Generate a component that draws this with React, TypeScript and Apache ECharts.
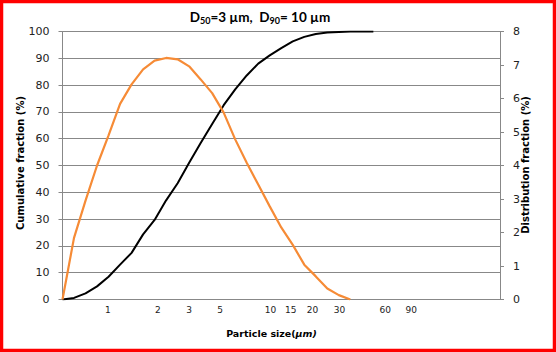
import React, { useEffect, useRef } from "react";
import * as echarts from "echarts";

// particle-size bin index (Excel-style category positions)
const cumulative = [0, 0.6, 2.3, 4.9, 8.5, 13, 17.4, 24.3, 29.7, 37, 43.4, 51, 58.4, 65.5, 72.5, 78.4, 83.6, 88, 91.1, 93.8, 96.3, 98, 99.1, 99.6, 99.8, 100, 100, 100];
const distribution = [0, 1.84, 2.95, 4.0, 4.9, 5.84, 6.42, 6.87, 7.13, 7.21, 7.17, 6.96, 6.57, 6.16, 5.58, 4.78, 4.08, 3.43, 2.78, 2.15, 1.63, 1.04, 0.69, 0.33, 0.13, 0];
const binCount = 38;
const xTickLabels = ["1", "2", "3", "5", "10", "15", "20", "30", "60", "90"];
const xTickPos = [3.94, 8.28, 11.0, 13.7, 18.07, 19.83, 21.71, 24.06, 28.04, 30.29];

const FONT = "'DejaVu Sans', Verdana, sans-serif";
const TITLE_FONT = "Lato, 'Open Sans', sans-serif";
const GRID = "#888888";

export default function App() {
  const ref = useRef<HTMLDivElement>(null);
  useEffect(() => {
    document.body.style.margin = "0";
    const chart = echarts.init(ref.current!, null, { renderer: "svg" });
    chart.setOption({
      animation: false,
      backgroundColor: "#ffffff",
      grid: { left: 62.5, right: 56, top: 31.5, bottom: 52.5, containLabel: false },
      xAxis: {
        type: "value",
        min: 0,
        max: binCount,
        splitLine: { show: false },
        axisLine: { show: true, lineStyle: { color: GRID, width: 1 } },
        axisTick: { show: false },
        axisLabel: {
          customValues: xTickPos,
          margin: 6,
          fontSize: 9,
          fontFamily: FONT,
          color: "#222",
          formatter: (v: number) => {
            let best = 0;
            for (let i = 1; i < xTickPos.length; i++) {
              if (Math.abs(xTickPos[i] - v) < Math.abs(xTickPos[best] - v)) best = i;
            }
            return xTickLabels[best];
          },
        },
      },
      yAxis: [
        {
          type: "value",
          min: 0,
          max: 100,
          interval: 10,
          splitLine: { show: true, lineStyle: { color: GRID, width: 1 } },
          axisLine: { show: true, lineStyle: { color: GRID } },
          axisTick: { show: true, length: 4, lineStyle: { color: GRID } },
          axisLabel: { fontSize: 11, fontFamily: FONT, color: "#222", margin: 13 },
        },
        {
          type: "value",
          min: 0,
          max: 8,
          interval: 1,
          position: "right",
          splitLine: { show: false },
          axisLine: { show: true, lineStyle: { color: GRID } },
          axisTick: { show: true, length: 4, lineStyle: { color: GRID } },
          axisLabel: { fontSize: 11, fontFamily: FONT, color: "#222", margin: 13 },
        },
      ],
      series: [
        {
          name: "Cumulative fraction",
          type: "line",
          yAxisIndex: 0,
          data: cumulative.map((v, i) => [i, v]),
          showSymbol: false,
          lineStyle: { color: "#000000", width: 2 },
          itemStyle: { color: "#000000" },
        },
        {
          name: "Distribution fraction",
          type: "line",
          yAxisIndex: 1,
          data: distribution.map((v, i) => [i, v]),
          showSymbol: false,
          lineStyle: { color: "#F68B36", width: 2.2 },
          itemStyle: { color: "#F68B36" },
        },
      ],
      graphic: [
        {
          type: "rect",
          shape: { x: 1.5, y: 1.5, width: 553, height: 349 },
          style: { fill: "none", stroke: "#FF0000", lineWidth: 3.5 },
          silent: true,
        },
        {
          type: "text",
          x: 260,
          y: 17,
          style: {
            text: "{b|D}{s|50}{b|=3 µm,  D}{s|90}{b|= 10 µm}",
            align: "center",
            verticalAlign: "middle",
            rich: {
              b: { fontSize: 13.5, fontWeight: "bold", fontFamily: TITLE_FONT, fill: "#000" },
              s: { fontSize: 9, fontWeight: "bold", fontFamily: TITLE_FONT, fill: "#000", padding: [7, 0, 0, 0] },
            },
          },
        },
        {
          type: "text",
          x: 20,
          y: 163,
          rotation: Math.PI / 2,
          style: {
            text: "Cumulative fraction (%)",
            align: "center",
            verticalAlign: "middle",
            fontSize: 10,
            fontWeight: "bold",
            fontFamily: FONT,
            fill: "#000",
          },
        },
        {
          type: "text",
          x: 525,
          y: 165,
          rotation: Math.PI / 2,
          style: {
            text: "Distribution fraction (%)",
            align: "center",
            verticalAlign: "middle",
            fontSize: 10,
            fontWeight: "bold",
            fontFamily: FONT,
            fill: "#000",
          },
        },
        {
          type: "text",
          x: 271.5,
          y: 333,
          style: {
            text: "{b|Particle size(}{i|µm)}",
            align: "center",
            verticalAlign: "middle",
            rich: {
              b: { fontSize: 9.5, fontWeight: "bold", fontFamily: FONT, fill: "#000" },
              i: { fontSize: 9.5, fontWeight: "bold", fontStyle: "italic", fontFamily: FONT, fill: "#000" },
            },
          },
        },
      ],
    });
    return () => chart.dispose();
  }, []);
  return (
    <div
      ref={ref}
      style={{ position: "absolute", left: 0, top: 0, width: 556, height: 352 }}
    />
  );
}
